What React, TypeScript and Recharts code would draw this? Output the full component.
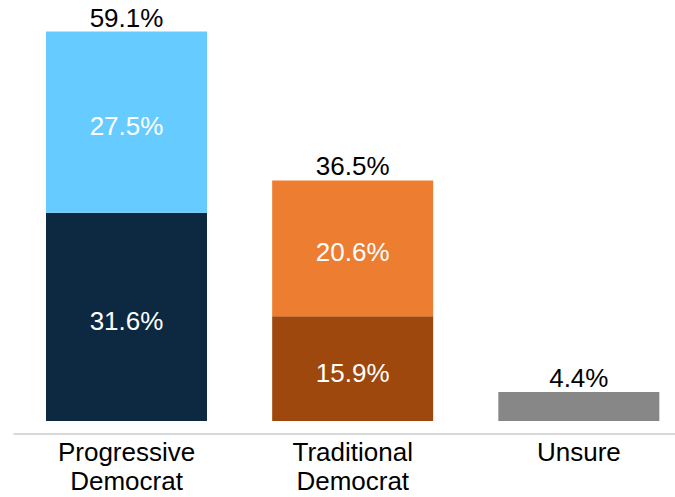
import React from 'react';
import { BarChart, Bar, XAxis, YAxis, Cell, LabelList } from 'recharts';

const categories = ['Progressive\nDemocrat', 'Traditional\nDemocrat', 'Unsure'];
const lowerValues = [31.6, 15.9, 4.4];
const upperValues = [27.5, 20.6, 0];
const totals = [59.1, 36.5, 4.4];

const LOWER_COLORS = ['#0D2841', '#9E480E', '#878787'];
const UPPER_COLORS = ['#66CCFF', '#ED7D31', '#878787'];

const data = categories.map((name, i) => ({
  name,
  lower: lowerValues[i],
  upper: upperValues[i],
  total: totals[i],
}));

const FONT = 'Liberation Sans, Arial, sans-serif';
const FS = 26;

const CategoryTick = (props: any) => {
  const { x, y, payload } = props;
  const lines = String(payload.value).split('\n');
  return (
    <text x={x} y={y + 19} textAnchor="middle" fontSize={FS} fontFamily={FONT} fill="#000">
      {lines.map((l, i) => (
        <tspan key={i} x={x} dy={i === 0 ? 0 : 29}>
          {l}
        </tspan>
      ))}
    </text>
  );
};

const insideLabel = (props: any) => {
  const { x, y, width, height, value, index } = props;
  if (index === 2 || !value) return null;
  return (
    <text
      x={x + width / 2}
      y={y + height / 2 + 4}
      textAnchor="middle"
      dominantBaseline="central"
      fontSize={FS}
      fontFamily={FONT}
      fill="#fff"
    >
      {value.toFixed(1)}%
    </text>
  );
};

// total above the stack; the upper series draws it for the two-part bars,
// the lower one for Unsure (its upper part is empty)
const makeTotalLabel = (forIdx: number[]) => (props: any) => {
  const { x, y, width, index } = props;
  if (!forIdx.includes(index)) return null;
  return (
    <text
      x={x + width / 2}
      y={y - 5}
      textAnchor="middle"
      fontSize={FS}
      fontFamily={FONT}
      fill="#000"
    >
      {totals[index].toFixed(1)}%
    </text>
  );
};

export default function App() {
  return (
    <div style={{ position: 'fixed', left: 0, top: 0, width: 675, height: 497, overflow: 'hidden', background: '#fff' }}>
      <BarChart
        width={675}
        height={497}
        data={data}
        margin={{ top: 12, right: -17, left: 13.5, bottom: 0 }}
        barCategoryGap={32.5}
      >
        <XAxis
          dataKey="name"
          axisLine={{ stroke: '#D9D9D9', strokeWidth: 2 }}
          tickLine={false}
          tick={<CategoryTick />}
          height={63}
          interval={0}
        />
        <YAxis hide domain={[-1.97, 62.06]} allowDataOverflow />
        <Bar dataKey="lower" stackId="a" isAnimationActive={false}>
          {data.map((d, i) => (
            <Cell key={i} fill={LOWER_COLORS[i]} />
          ))}
          <LabelList dataKey="lower" content={insideLabel} />
          <LabelList dataKey="total" content={makeTotalLabel([2])} />
        </Bar>
        <Bar dataKey="upper" stackId="a" isAnimationActive={false}>
          {data.map((d, i) => (
            <Cell key={i} fill={UPPER_COLORS[i]} />
          ))}
          <LabelList dataKey="upper" content={insideLabel} />
          <LabelList dataKey="total" content={makeTotalLabel([0, 1])} />
        </Bar>
      </BarChart>
    </div>
  );
}
